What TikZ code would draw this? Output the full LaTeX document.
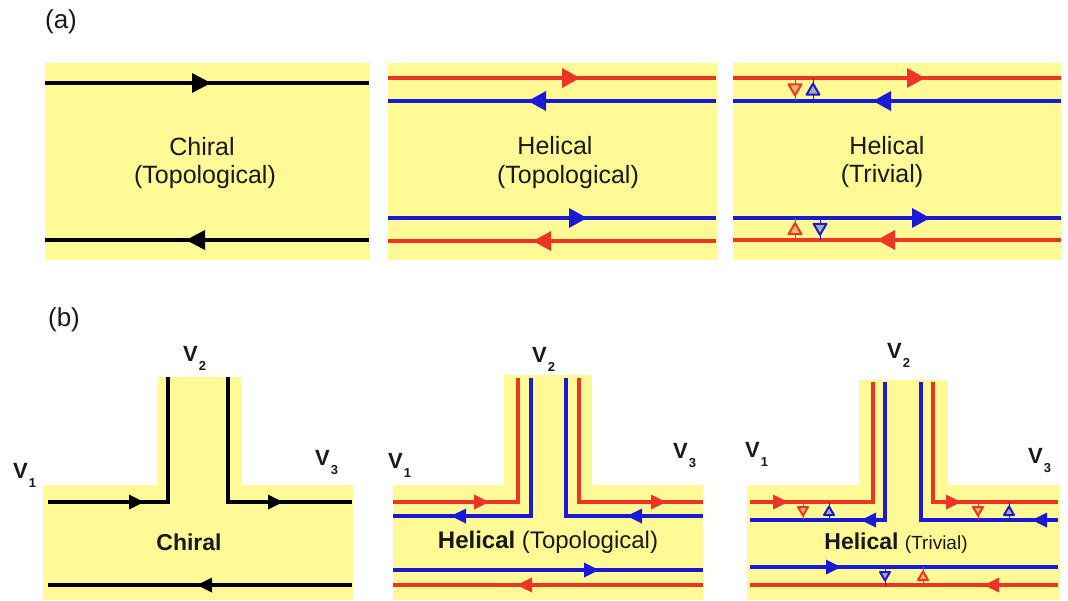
\documentclass[tikz,border=0pt]{standalone}
\usepackage{fontspec}
\setmainfont{Liberation Sans}
\definecolor{yel}{RGB}{255,250,150}
\definecolor{myred}{RGB}{238,52,36}
\definecolor{myblue}{RGB}{26,26,214}
\definecolor{ink}{RGB}{25,25,25}
% arrowheads: colour, tip x, tip y, length, half width
\newcommand\aR[5]{\fill[#1] (#2,#3) -- ({#2-#4},{#3-#5}) -- ({#2-#4},{#3+#5}) -- cycle;}
\newcommand\aL[5]{\fill[#1] (#2,#3) -- ({#2+#4},{#3-#5}) -- ({#2+#4},{#3+#5}) -- cycle;}
% scatterers: colour, x, y of upper line, y of lower line, half size
\newcommand\scDown[5]{\draw[#1,line width=1pt] (#2,#3) -- (#2,#4);
  \draw[#1,line width=2pt,fill=#1!35!yel,line join=round] ({#2-#5},{(#3+#4)/2-0.8*#5}) -- ({#2+#5},{(#3+#4)/2-0.8*#5}) -- (#2,{(#3+#4)/2+0.9*#5}) -- cycle;}
\newcommand\scUp[5]{\draw[#1,line width=1pt] (#2,#3) -- (#2,#4);
  \draw[#1,line width=2pt,fill=#1!35!yel,line join=round] ({#2-#5},{(#3+#4)/2+0.8*#5}) -- ({#2+#5},{(#3+#4)/2+0.8*#5}) -- (#2,{(#3+#4)/2-0.9*#5}) -- cycle;}
\newcommand\Vlab[1]{\textbf{V}\kern1pt\raisebox{-9pt}{\fontsize{13}{13}\selectfont\textbf{#1}}}
\begin{document}
\begin{tikzpicture}[x=1pt,y=-1pt,
  wire/.style={line width=3.4pt},
  bwire/.style={line width=3.2pt},
  lbl/.style={font=\fontsize{26}{30}\selectfont, text=ink, inner sep=0pt},
  boxtxt/.style={font=\fontsize{25}{30}\selectfont, text=ink, inner sep=0pt},
  vtxt/.style={font=\fontsize{22}{26}\selectfont, text=ink, inner sep=0pt, anchor=base west}]
\useasboundingbox (0,0) rectangle (1068,600);
\fill[white] (0,0) rectangle (1068,600);

% ---------------- (a) ----------------
\node[lbl] (la) at (61,22) {(a)};
% box 1 chiral
\fill[yel] (45,63) rectangle (370,260);
\draw[wire,black] (45,83) -- (369,83);
\draw[wire,black] (45,240) -- (369,240);
\aR{black}{211}{83}{19}{10}
\aL{black}{186}{240}{19}{10}
\node[boxtxt] (t1a) at (202,147) {Chiral};
\node[boxtxt] (t1b) at (205,177) {(Topological)};

% box 2 helical topological
\fill[yel] (388,63) rectangle (717,260);
\draw[wire,myred] (388,78) -- (716,78);
\draw[wire,myblue] (388,101) -- (716,101);
\draw[wire,myblue] (388,218) -- (716,218);
\draw[wire,myred] (388,241) -- (716,241);
\aR{myred}{580}{78}{18}{10}
\aL{myblue}{528}{101}{18}{10}
\aR{myblue}{587}{218}{18}{10}
\aL{myred}{533}{241}{18}{10}
\node[boxtxt] (t2a) at (555,146) {Helical};
\node[boxtxt] (t2b) at (568,177) {(Topological)};

% box 3 helical trivial
\fill[yel] (733,63) rectangle (1062,260);
\draw[wire,myred] (733,78) -- (1061,78);
\draw[wire,myblue] (733,101) -- (1061,101);
\draw[wire,myblue] (733,218) -- (1061,218);
\draw[wire,myred] (733,240) -- (1061,240);
\aR{myred}{925}{78}{18}{10}
\aL{myblue}{873}{101}{18}{10}
\aR{myblue}{930}{218}{18}{10}
\aL{myred}{877}{240}{18}{10}
\scDown{myred}{795}{78}{101}{6.5}
\scUp{myblue}{813}{78}{101}{6.5}
\scUp{myred}{795}{218}{240}{6.5}
\scDown{myblue}{820}{218}{240}{6.5}
\node[boxtxt] (t3a) at (887,146) {Helical};
\node[boxtxt] (t3b) at (882,176) {(Trivial)};

% ---------------- (b) ----------------
\node[lbl] (lb) at (64,320) {(b)};

% chiral T
\fill[yel] (43,485) rectangle (353,600);
\fill[yel] (157,377) rectangle (242,486);
\draw[bwire,black] (48,502) -| (168,377);
\draw[bwire,black] (228,377) |- (352,502);
\draw[bwire,black] (48,585) -- (352,585);
\aR{black}{144}{502}{15}{7.5}
\aR{black}{283}{502}{15}{7.5}
\aL{black}{197}{585}{15}{7.5}
\node[font=\fontsize{23}{26}\selectfont\bfseries, text=ink, inner sep=0pt] (tb1) at (189,542) {Chiral};
\node[vtxt] (v11) at (13,478) {\Vlab{1}};
\node[vtxt] (v12) at (183,361) {\Vlab{2}};
\node[vtxt] (v13) at (315,465) {\Vlab{3}};

% helical topological T
\fill[yel] (393,485) rectangle (703,600);
\fill[yel] (504,375) rectangle (592,486);
\draw[bwire,myred] (393,502) -| (518,378);
\draw[bwire,myblue] (393,516) -| (531,378);
\draw[bwire,myblue] (566,378) |- (703,516);
\draw[bwire,myred] (579,378) |- (703,502);
\draw[bwire,myblue] (393,570) -- (703,570);
\draw[bwire,myred] (393,585) -- (703,585);
\aR{myred}{489}{502}{15}{7.5}
\aL{myblue}{451}{516}{15}{7.5}
\aR{myred}{666}{502}{15}{7.5}
\aL{myblue}{627}{516}{15}{7.5}
\aR{myblue}{599}{570}{15}{7.5}
\aL{myred}{517}{585}{15}{7.5}
\node[font=\fontsize{24}{26}\selectfont, text=ink, inner sep=0pt] (tb2) at (548,542) {\textbf{Helical} (Topological)};
\node[vtxt] (v21) at (388,468) {\Vlab{1}};
\node[vtxt] (v22) at (532,362) {\Vlab{2}};
\node[vtxt] (v23) at (673,458) {\Vlab{3}};

% helical trivial T
\fill[yel] (747,485) rectangle (1060,600);
\fill[yel] (859,380) rectangle (948,486);
\draw[bwire,myred] (750,502) -| (873,382);
\draw[bwire,myblue] (750,520) -| (885,382);
\draw[bwire,myblue] (921,382) |- (1058,520);
\draw[bwire,myred] (933,382) |- (1058,502);
\draw[bwire,myblue] (750,567) -- (1058,567);
\draw[bwire,myred] (750,585) -- (1058,585);
\aR{myred}{788}{502}{15}{7.5}
\aL{myblue}{861}{520}{15}{7.5}
\aR{myred}{961}{502}{15}{7.5}
\aL{myblue}{1032}{520}{15}{7.5}
\aR{myblue}{841}{567}{15}{7.5}
\aL{myred}{984}{585}{15}{7.5}
\scDown{myred}{803}{502}{520}{5}
\scUp{myblue}{829}{502}{520}{5}
\scDown{myred}{978}{502}{520}{5}
\scUp{myblue}{1009}{502}{520}{5}
\scDown{myblue}{885}{567}{585}{5}
\scUp{myred}{923}{567}{585}{5}
\node[font=\fontsize{23}{26}\selectfont, text=ink, inner sep=0pt] (tb3) at (896,543) {\textbf{Helical} {\fontsize{19}{22}\selectfont(Trivial)}};
\node[vtxt] (v31) at (745,457) {\Vlab{1}};
\node[vtxt] (v32) at (887,358) {\Vlab{2}};
\node[vtxt] (v33) at (1028,463) {\Vlab{3}};
\end{tikzpicture}
\end{document}
